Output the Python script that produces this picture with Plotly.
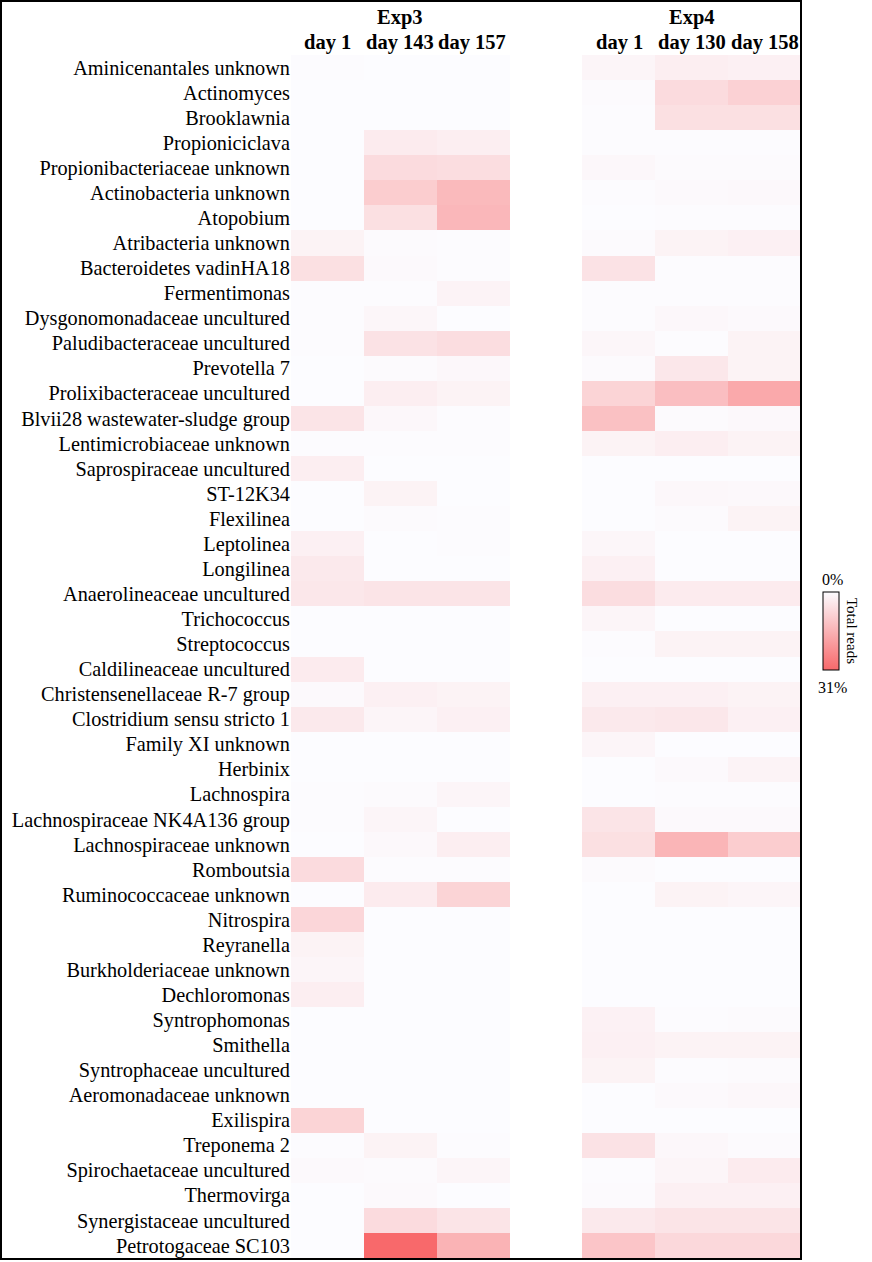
import numpy as np
import plotly.graph_objects as go

## relative abundance (% of total reads) per genus
taxa = [
    "Aminicenantales unknown", "Actinomyces", "Brooklawnia", "Propioniciclava",
    "Propionibacteriaceae unknown", "Actinobacteria unknown", "Atopobium",
    "Atribacteria unknown", "Bacteroidetes vadinHA18", "Fermentimonas",
    "Dysgonomonadaceae uncultured", "Paludibacteraceae uncultured", "Prevotella 7",
    "Prolixibacteraceae uncultured", "Blvii28 wastewater-sludge group",
    "Lentimicrobiaceae unknown", "Saprospiraceae uncultured", "ST-12K34",
    "Flexilinea", "Leptolinea", "Longilinea", "Anaerolineaceae uncultured",
    "Trichococcus", "Streptococcus", "Caldilineaceae uncultured",
    "Christensenellaceae R-7 group", "Clostridium sensu stricto 1",
    "Family XI unknown", "Herbinix", "Lachnospira", "Lachnospiraceae NK4A136 group",
    "Lachnospiraceae unknown", "Romboutsia", "Ruminococcaceae unknown",
    "Nitrospira", "Reyranella", "Burkholderiaceae unknown", "Dechloromonas",
    "Syntrophomonas", "Smithella", "Syntrophaceae uncultured",
    "Aeromonadaceae unknown", "Exilispira", "Treponema 2",
    "Spirochaetaceae uncultured", "Thermovirga", "Synergistaceae uncultured",
    "Petrotogaceae SC103",
]

exp3_days = ["day 1", "day 143", "day 157"]
exp4_days = ["day 1", "day 130", "day 158"]

exp3_d1 = [0.3, 0.1, 0.1, 0.1, 0.1, 0.1, 0.1, 2.0, 6.0, 0.3, 0.3, 0.3, 0.1, 0.1, 5.0, 0.3,
           3.0, 0.1, 0.1, 2.5, 4.0, 4.5, 0.1, 0.1, 3.5, 0.6, 4.0, 0.1, 0.1, 0.3, 0.3, 0.1,
           7.0, 0.1, 8.0, 2.0, 1.5, 3.0, 0.0, 0.1, 0.1, 0.1, 8.5, 0.2, 0.6, 0.1, 0.1, 0.1]
exp3_d143 = [0.1, 0.1, 0.1, 3.5, 7.0, 10.0, 6.0, 0.5, 0.7, 0.3, 1.2, 5.5, 0.5, 3.0, 1.0, 0.3,
             0.1, 2.0, 0.5, 0.1, 0.1, 5.0, 0.1, 0.1, 0.1, 2.5, 1.5, 0.1, 0.1, 0.5, 1.5, 0.9,
             0.3, 3.5, 0.1, 0.1, 0.1, 0.1, 0.1, 0.1, 0.1, 0.1, 0.1, 2.0, 0.5, 0.7, 7.0, 31.0]
exp3_d157 = [0.1, 0.1, 0.1, 3.0, 6.5, 14.0, 14.5, 0.3, 0.3, 1.8, 0.1, 6.5, 1.0, 2.0, 0.3, 0.3,
             0.1, 0.1, 0.3, 0.3, 0.1, 5.0, 0.1, 0.1, 0.1, 2.0, 2.5, 0.1, 0.1, 1.5, 0.0, 3.0,
             0.3, 8.5, 0.1, 0.1, 0.1, 0.1, 0.1, 0.1, 0.1, 0.1, 0.1, 0.2, 1.5, 0.1, 5.0, 15.5]
exp4_d1 = [1.5, 0.5, 0.3, 0.3, 1.0, 0.3, 0.1, 0.5, 5.5, 0.3, 0.2, 1.2, 0.5, 8.5, 12.5, 2.0,
           0.1, 0.1, 0.1, 1.3, 2.5, 6.5, 1.5, 0.3, 0.1, 2.5, 4.0, 1.5, 0.1, 0.1, 5.0, 6.0,
           0.5, 0.1, 0.1, 0.1, 0.1, 0.1, 2.3, 2.5, 2.0, 0.1, 0.1, 5.5, 0.3, 0.5, 4.0, 11.5]
exp4_d130 = [3.0, 7.0, 6.0, 0.3, 0.5, 0.7, 0.3, 2.0, 0.3, 0.3, 1.0, 0.3, 4.5, 13.0, 0.5, 3.0,
             0.1, 1.0, 0.5, 0.1, 0.1, 3.5, 0.1, 2.0, 0.1, 2.5, 4.5, 0.1, 0.7, 0.3, 0.7, 15.0,
             0.1, 2.0, 0.1, 0.1, 0.1, 0.1, 0.3, 2.0, 0.3, 0.7, 0.1, 1.0, 1.5, 2.5, 5.0, 7.5]
exp4_d158 = [2.5, 9.0, 6.0, 0.3, 0.5, 0.9, 0.3, 2.5, 0.3, 0.3, 0.7, 2.0, 2.0, 17.5, 0.9, 2.0,
             0.1, 0.9, 2.0, 0.1, 0.1, 3.5, 0.1, 2.0, 0.1, 2.0, 2.5, 0.1, 1.8, 0.3, 0.7, 10.0,
             0.1, 1.5, 0.1, 0.1, 0.1, 0.1, 0.5, 2.0, 0.5, 1.0, 0.1, 0.5, 3.5, 2.5, 5.0, 7.5]

vmax = 31.0

## 7 columns: Exp3 (3), empty spacer, Exp4 (3)
cols = [exp3_d1, exp3_d143, exp3_d157, None, exp4_d1, exp4_d130, exp4_d158]
vals = []
for i in range(len(taxa)):
    row = []
    for c in cols:
        row.append(None if c is None else c[i])
    vals.append(row)
vals = np.array(vals, dtype=float)

## negative values so the colorbar runs 0% at top -> 31% at bottom (as in the original)
fig = go.Figure()
fig.add_trace(go.Heatmap(
    z=-vals, x=list(range(7)), y=taxa, customdata=vals,
    zmin=-vmax, zmax=0,
    colorscale=[[0, '#F8696B'], [1, '#FCFCFF']],
    hovertemplate='%{y}<br>%{customdata:.1f}%<extra></extra>',
    xgap=0, ygap=0,
    colorbar=dict(thickness=16, len=78, lenmode='pixels', x=1.043, xanchor='left',
                  xpad=0, ypad=0,
                  y=0.5212, yanchor='middle', outlinecolor='black', outlinewidth=1,
                  showticklabels=False, ticks=''),
))

font_serif = "Liberation Serif"
W, H = 872, 1262
L, R, T, B = 291, 71, 55, 4
pw, ph = W - L - R, H - T - B

def px_x(p):
    return (p - L) / pw

def px_y(p):
    return (H - B - p) / ph

ann = []
for name, cx in [("Exp3", 400), ("Exp4", 692)]:
    ann.append(dict(text="<b>%s</b>" % name, x=px_x(cx), y=px_y(17)))
for lab, cx in zip(exp3_days + exp4_days, [327, 400, 472, 619, 692, 765]):
    ann.append(dict(text="<b>%s</b>" % lab, x=px_x(cx), y=px_y(42)))
annotations = []
for a in ann:
    annotations.append(dict(text=a['text'], x=a['x'], y=a['y'], xref='paper', yref='paper',
                            showarrow=False, xanchor='center', yanchor='middle',
                            font=dict(family=font_serif, size=20.5, color='black')))
annotations.append(dict(text="0%", x=px_x(832), y=px_y(579), xref='paper', yref='paper',
                        showarrow=False, xanchor='center', yanchor='middle',
                        font=dict(family=font_serif, size=16, color='black')))
annotations.append(dict(text="31%", x=px_x(832), y=px_y(687), xref='paper', yref='paper',
                        showarrow=False, xanchor='center', yanchor='middle',
                        font=dict(family=font_serif, size=16, color='black')))
annotations.append(dict(text="Total reads", x=px_x(852), y=px_y(631), xref='paper', yref='paper',
                        showarrow=False, textangle=90, xanchor='center', yanchor='middle',
                        font=dict(family=font_serif, size=15, color='black')))

fig.update_xaxes(range=[-0.5, 6.5], showticklabels=False, showgrid=False, zeroline=False,
                 ticks='', showline=False)
fig.update_yaxes(autorange='reversed', showgrid=False, zeroline=False, showline=False,
                 ticks='', ticklabelstandoff=0,
                 tickfont=dict(family=font_serif, size=20.3, color='black'))
fig.update_layout(
    width=W, height=H, margin=dict(l=L, r=R, t=T, b=B, autoexpand=False),
    paper_bgcolor='white', plot_bgcolor='white',
    annotations=annotations,
    shapes=[dict(type='rect', xref='paper', yref='paper',
                 x0=px_x(1), x1=px_x(801), y0=px_y(1259), y1=px_y(1),
                 line=dict(color='black', width=2), fillcolor='rgba(0,0,0,0)')],
)
fig.write_html("out.html", config={'displayModeBar': False},
               post_script="document.body.style.margin='0';")
